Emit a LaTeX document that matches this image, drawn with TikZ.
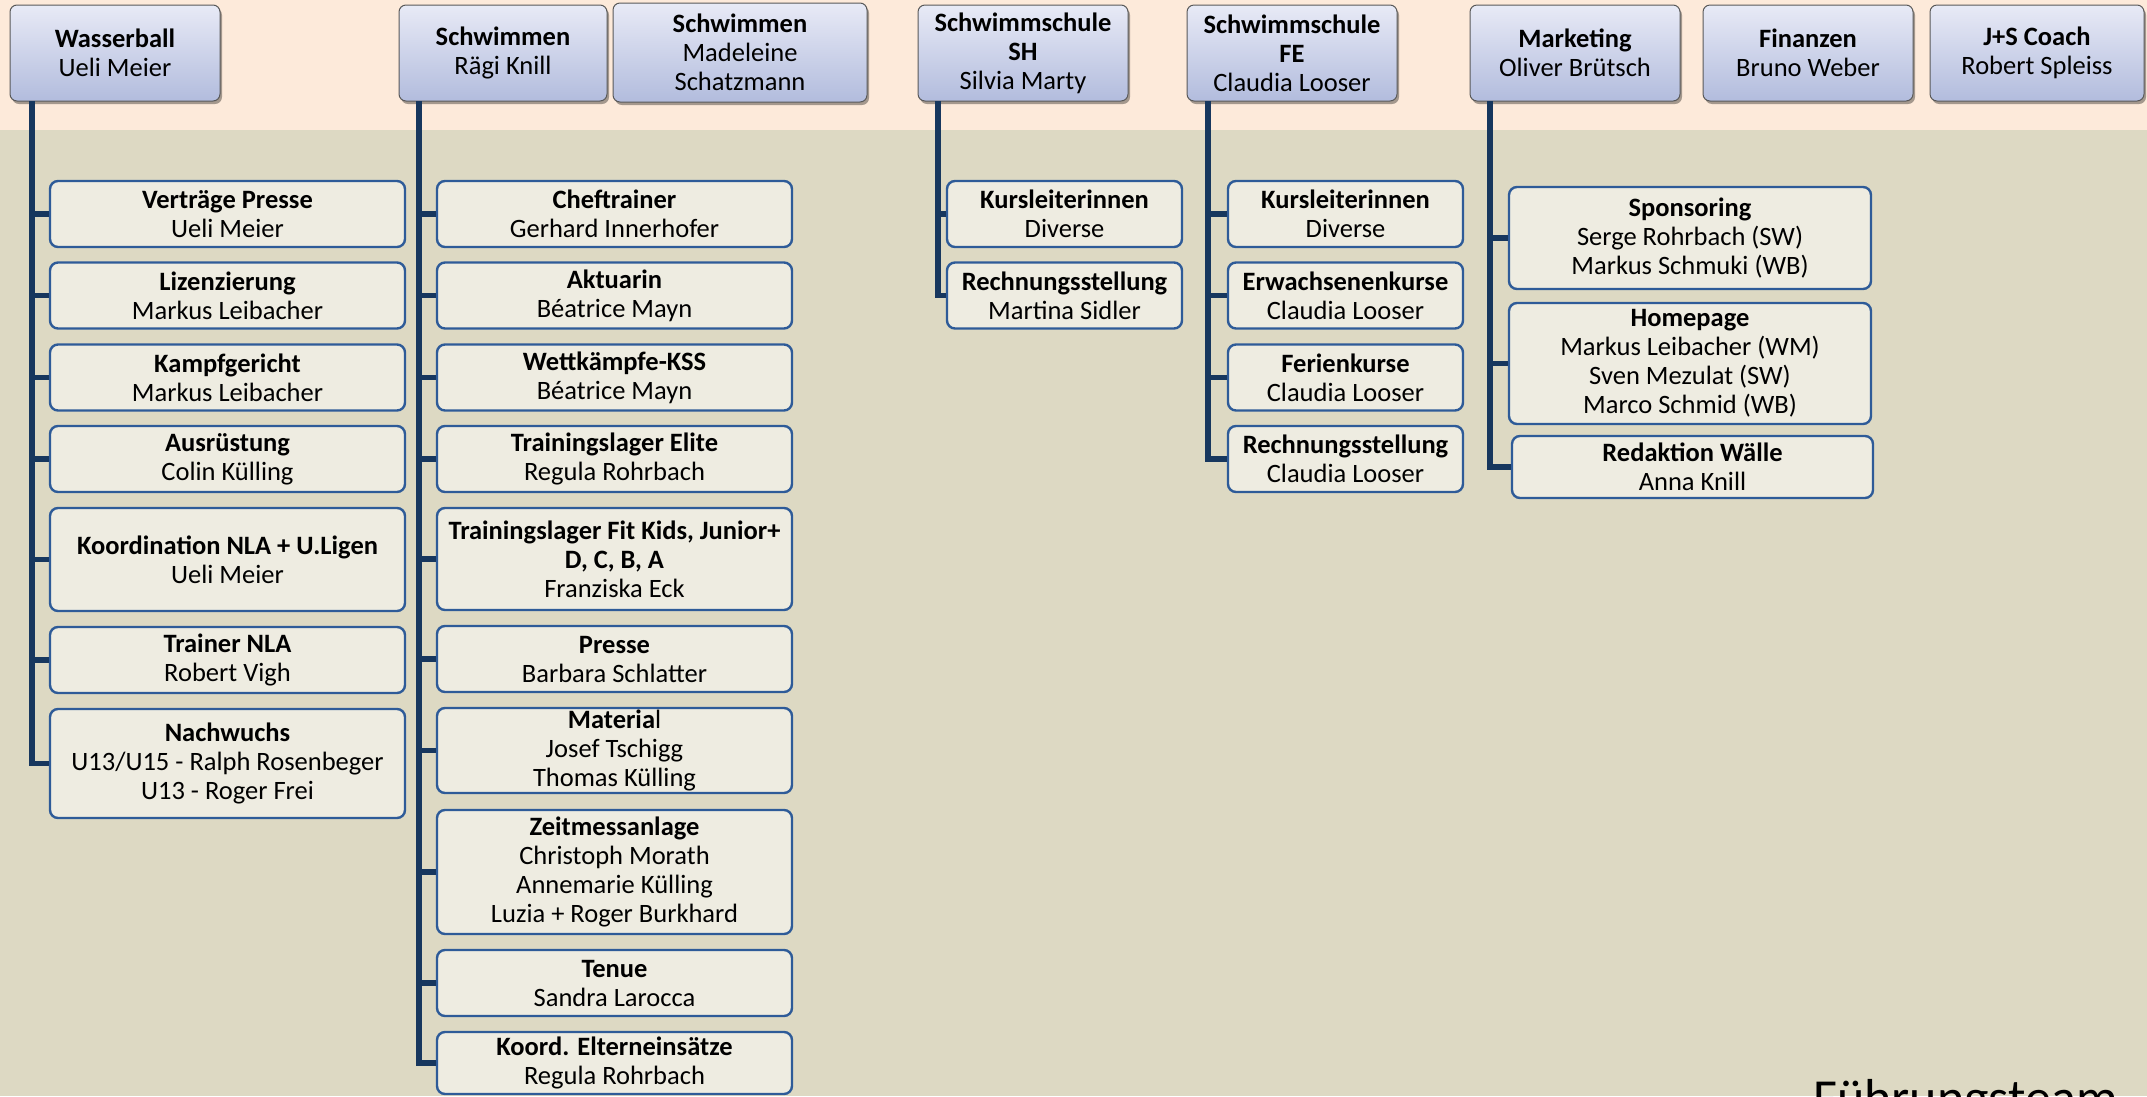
\documentclass[tikz,border=0pt]{standalone}
\usepackage{fontspec}
\setmainfont{Carlito}
\usetikzlibrary{shadows}
\definecolor{peach}{HTML}{FDEADA}
\definecolor{bgtan}{HTML}{DDD9C3}
\definecolor{boxfill}{HTML}{EEECE1}
\definecolor{boxline}{HTML}{2E5B98}
\definecolor{connblue}{HTML}{17375E}
\definecolor{toptop}{HTML}{E8EAF6}
\definecolor{topbot}{HTML}{B2BCDD}
\newcommand{\fsz}{\fontsize{26.5}{29}\selectfont}
\begin{document}
\begin{tikzpicture}[x=1pt,y=-1pt,
  headbox/.style={draw=black!65, line width=1pt, rounded corners=7pt,
    top color=toptop, bottom color=topbot, minimum height=96pt,
    inner sep=0pt, align=center, font=\fsz,
    drop shadow={shadow xshift=2pt,shadow yshift=-3pt,opacity=0.35,fill=black}},
  subbox/.style={draw=boxline, line width=2.4pt, fill=boxfill,
    rounded corners=8pt, inner xsep=2pt, inner ysep=0pt, align=center, font=\fsz},
  link/.style={draw=connblue, line width=5.5pt, line join=miter}
]
\useasboundingbox (0,0) rectangle (2147,1096);
\clip (0,0) rectangle (2147,1096);
\fill[bgtan] (0,0) rectangle (2147,1096);
\fill[peach] (0,0) rectangle (2147,130);

% head boxes
\node[headbox, minimum width=210pt] (wb) at (115,53) {\textbf{Wasserball}\\Ueli Meier};
\node[headbox, minimum width=208pt] (rk) at (503,53) {\textbf{Schwimmen}\\Rägi Knill};
\node[headbox, minimum width=254pt, minimum height=99pt] (md) at (740,52.5) {\textbf{Schwimmen}\\Madeleine\\Schatzmann};
\node[headbox, minimum width=210pt] (sh) at (1023,53) {\textbf{Schwimmschule}\\\textbf{SH}\\Silvia Marty};
\node[headbox, minimum width=210pt] (fe) at (1292,53) {\textbf{Schwimmschule}\\\textbf{FE}\\Claudia Looser};
\node[headbox, minimum width=210pt] (mk) at (1575,53) {\textbf{Marketing}\\Oliver Brütsch};
\node[headbox, minimum width=210pt] (fi) at (1808,53) {\textbf{Finanzen}\\Bruno Weber};
\node[headbox, minimum width=214pt] (js) at (2037,53) {\textbf{J+S Coach}\\Robert Spleiss};

% spine tops
\coordinate (wbS) at (32,101);
\coordinate (rkS) at (419,101);
\coordinate (shS) at (938,101);
\coordinate (feS) at (1208,101);
\coordinate (mkS) at (1490,101);

% Wasserball children
\begin{scope}[every node/.append style={subbox, minimum width=355pt, minimum height=66pt}]
\node (w1) at (227.5,214) {\textbf{Verträge Presse}\\Ueli Meier};
\node (w2) at (227.5,295.5) {\textbf{Lizenzierung}\\Markus Leibacher};
\node (w3) at (227.5,377.5) {\textbf{Kampfgericht}\\Markus Leibacher};
\node (w4) at (227.5,459) {\textbf{Ausrüstung}\\Colin Külling};
\node[minimum height=103pt] (w5) at (227.5,559.5) {\textbf{Koordination NLA + U.Ligen}\\Ueli Meier};
\node (w6) at (227.5,660) {\textbf{Trainer NLA}\\Robert Vigh};
\node[minimum height=109pt] (w7) at (227.5,763.5) {\textbf{Nachwuchs}\\U13/U15 - Ralph Rosenbeger\\U13 - Roger Frei};
\end{scope}

% Schwimmen children
\begin{scope}[every node/.append style={subbox, minimum width=355pt, minimum height=66pt}]
\node (s1) at (614.5,214) {\textbf{Cheftrainer}\\Gerhard Innerhofer};
\node (s2) at (614.5,295.5) {\textbf{Aktuarin}\\Béatrice Mayn};
\node (s3) at (614.5,377.5) {\textbf{Wettkämpfe-KSS}\\Béatrice Mayn};
\node (s4) at (614.5,459) {\textbf{Trainingslager Elite}\\Regula Rohrbach};
\node[minimum height=102pt] (s5) at (614.5,559) {\textbf{Trainingslager Fit Kids, Junior+}\\\textbf{D, C, B, A}\\Franziska Eck};
\node (s6) at (614.5,659) {\textbf{Presse}\\Barbara Schlatter};
\node[minimum height=85pt] (s7) at (614.5,750.5) {\textbf{Materia}l\\Josef Tschigg\\Thomas Külling};
\node[minimum height=124pt] (s8) at (614.5,872) {\textbf{Zeitmessanlage}\\Christoph Morath\\Annemarie Külling\\Luzia + Roger Burkhard};
\node (s9) at (614.5,983) {\textbf{Tenue}\\Sandra Larocca};
\node[minimum height=62pt] (s10) at (614.5,1063) {\textbf{Koord. Elterneinsätze}\\Regula Rohrbach};
\end{scope}

% Schwimmschule SH children
\begin{scope}[every node/.append style={subbox, minimum width=235pt, minimum height=66pt}]
\node (h1) at (1064.5,214) {\textbf{Kursleiterinnen}\\Diverse};
\node (h2) at (1064.5,295.5) {\textbf{Rechnungsstellung}\\Martina Sidler};
\end{scope}

% Schwimmschule FE children
\begin{scope}[every node/.append style={subbox, minimum width=235pt, minimum height=66pt}]
\node (f1) at (1345.5,214) {\textbf{Kursleiterinnen}\\Diverse};
\node (f2) at (1345.5,295.5) {\textbf{Erwachsenenkurse}\\Claudia Looser};
\node (f3) at (1345.5,377.5) {\textbf{Ferienkurse}\\Claudia Looser};
\node (f4) at (1345.5,459) {\textbf{Rechnungsstellung}\\Claudia Looser};
\end{scope}

% Marketing children
\begin{scope}[every node/.append style={subbox, minimum width=362pt}]
\node[minimum height=102pt] (m1) at (1690,238) {\textbf{Sponsoring}\\Serge Rohrbach (SW)\\Markus Schmuki (WB)};
\node[minimum height=121pt] (m2) at (1690,363.5) {\textbf{Homepage}\\Markus Leibacher (WM)\\Sven Mezulat (SW)\\Marco Schmid (WB)};
\node[minimum height=62pt, minimum width=361pt] (m3) at (1692.5,467) {\textbf{Redaktion Wälle}\\Anna Knill};
\end{scope}

% connectors
\foreach \c in {w1,w2,w3,w4,w5,w6,w7} \draw[link] (wbS) |- (\c.west);
\foreach \c in {s1,s2,s3,s4,s5,s6,s7,s8,s9,s10} \draw[link] (rkS) |- (\c.west);
\foreach \c in {h1,h2} \draw[link] (shS) |- (\c.west);
\foreach \c in {f1,f2,f3,f4} \draw[link] (feS) |- (\c.west);
\foreach \c in {m1,m2,m3} \draw[link] (mkS) |- (\c.west);

\node[anchor=base west, font=\fontsize{52}{60}\selectfont, inner sep=0pt] (ft) at (1813,1115.5) {Führungsteam};
\end{tikzpicture}
\end{document}
